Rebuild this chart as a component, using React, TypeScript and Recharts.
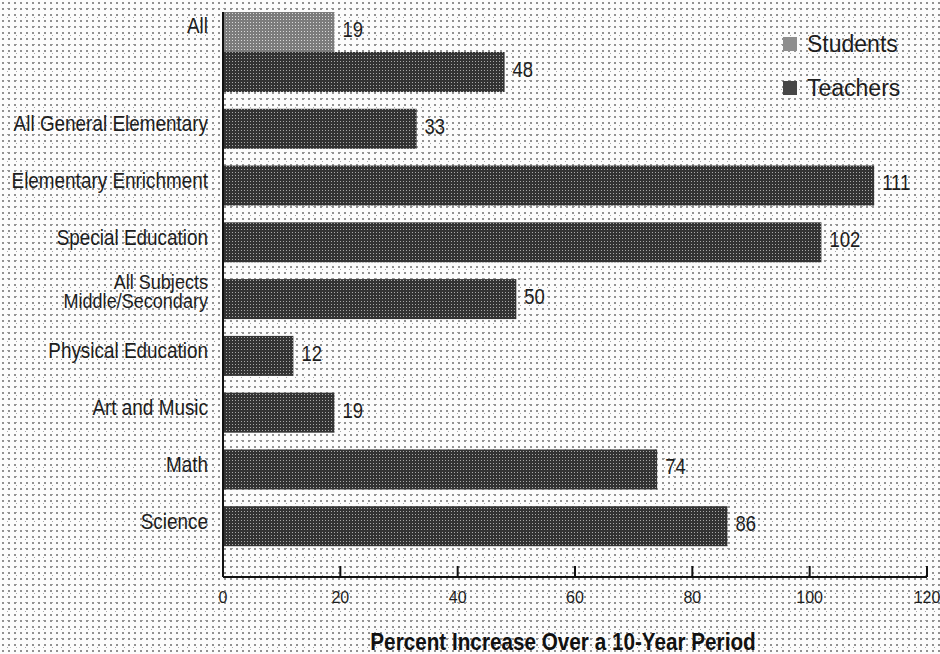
import React from "react";
import { BarChart, Bar, XAxis, YAxis, LabelList, Legend, Label } from "recharts";

const categories = [
  "All",
  "All General Elementary",
  "Elementary Enrichment",
  "Special Education",
  "All Subjects\nMiddle/Secondary",
  "Physical Education",
  "Art and Music",
  "Math",
  "Science",
];
const teacherIncrease = [48, 33, 111, 102, 50, 12, 19, 74, 86];
const studentIncrease: (number | null)[] = [19, null, null, null, null, null, null, null, null];
const xTicks = [0, 20, 40, 60, 80, 100, 120];
const seriesNames = ["Students", "Teachers"];
const axisTitle = "Percent Increase Over a 10-Year Period";

const data = categories.map((name, i) => ({
  name,
  teachers: teacherIncrease[i],
  students: studentIncrease[i],
}));

const PLAIN = "'Liberation Sans', Arial, sans-serif";
const INK = "#1d1d1d";
const TEACH_SOLID = "#464646";
const STU_SOLID = "#8e8e8e";

// condensed-looking text: a regular sans squeezed horizontally around its anchor
const Cond = (p: any) => {
  const { x, y, anchor = "start", size = 22, sx = 0.86, weight = "normal", fill = INK, children } = p;
  return (
    <text
      transform={`translate(${x},${y}) scale(${sx},1)`}
      x={0}
      y={0}
      textAnchor={anchor}
      fontFamily={PLAIN}
      fontSize={size}
      fontWeight={weight}
      fill={fill}
    >
      {children}
    </text>
  );
};

const YTick = (props: any) => {
  const { x, y, payload } = props;
  const label = String(payload.value);
  const lines = label.split("\n");
  const multi = lines.length > 1;
  const lh = 19;
  const size = multi ? 21 : 22;
  const first = label === "All" ? y - 47 : multi ? y - 18 : y - 6;
  return (
    <Cond x={x - 15} y={first} anchor="end" size={size}>
      {lines.map((l, i) => (
        <tspan key={i} x={0} dy={i === 0 ? "0.36em" : lh}>
          {l}
        </tspan>
      ))}
    </Cond>
  );
};

const XTick = (props: any) => {
  const { x, y, payload } = props;
  return (
    <g>
      <line x1={x} y1={y} x2={x} y2={y - 11} stroke="#111" strokeWidth={2} />
      <text x={x} y={y + 26} textAnchor="middle" fill={INK} fontFamily={PLAIN} fontSize={16}>
        {payload.value}
      </text>
    </g>
  );
};

const makeValueLabel = (lift: number) => (props: any) => {
  const vb = props.viewBox || props;
  const { x, y, width, height } = vb;
  const value = props.value;
  if (value == null || !width) return null;
  return (
    <Cond x={x + width + 8} y={y + height / 2 - lift - 3} sx={0.84}>
      <tspan dy="0.36em">{value}</tspan>
    </Cond>
  );
};

const StudentShape = (props: any) => {
  const { x, y, width, height } = props;
  if (!width || width <= 0) return null;
  return <rect x={x} y={y - height} width={width} height={height} fill="url(#stuPat)" />;
};

const TeacherShape = (props: any) => {
  const { x, y, width, height } = props;
  if (!width || width <= 0) return null;
  return <rect x={x} y={y} width={width} height={height} fill="url(#teachPat)" />;
};

const TitleLabel = (props: any) => {
  const vb = props.viewBox;
  return (
    <Cond
      x={vb.x + vb.width / 2 - 12}
      y={vb.y + vb.height - 4}
      anchor="middle"
      size={23}
      sx={0.9}
      weight="bold"
      fill="#111"
    >
      {axisTitle}
    </Cond>
  );
};

const LegendBox = () => {
  const colors = [STU_SOLID, TEACH_SOLID];
  return (
    <div style={{ fontFamily: PLAIN, fontSize: 23, color: INK }}>
      {seriesNames.map((n, i) => (
        <div key={n} style={{ display: "flex", alignItems: "center", height: 44 }}>
          <span
            style={{
              display: "inline-block",
              width: 14,
              height: 14,
              background: colors[i],
              marginRight: 10,
            }}
          />
          <span style={{ lineHeight: "23px" }}>{n}</span>
        </div>
      ))}
    </div>
  );
};

export default function App() {
  return (
    <div
      style={{
        position: "absolute",
        left: 0,
        top: 0,
        width: 940,
        height: 654,
        backgroundColor: "#fcfcfc",
        backgroundImage:
          "radial-gradient(circle, #8f8f8f 0.7px, transparent 1.1px), radial-gradient(circle, #a8a8a8 0.6px, transparent 1px)",
        backgroundSize: "6px 6px, 9px 9px",
        backgroundPosition: "0 0, 3px 4px",
      }}
    >
      <BarChart
        width={940}
        height={654}
        data={data}
        layout="vertical"
        barSize={40}
        margin={{ top: 12, right: 13, bottom: 0, left: 0 }}
      >
        <defs>
          <pattern id="teachPat" width="3" height="3" patternUnits="userSpaceOnUse">
            <rect width="3" height="3" fill="#333333" />
            <rect x="1" y="1" width="1" height="1" fill="#a8a8a8" />
          </pattern>
          <pattern id="stuPat" width="3" height="3" patternUnits="userSpaceOnUse">
            <rect width="3" height="3" fill="#7c7c7c" />
            <rect x="1" y="1" width="1" height="1" fill="#d8d8d8" />
          </pattern>
        </defs>
        <XAxis
          type="number"
          domain={[0, 120]}
          ticks={xTicks}
          height={77}
          tickSize={0}
          tickMargin={0}
          tickLine={false}
          axisLine={{ stroke: "#111", strokeWidth: 2 }}
          tick={<XTick />}
          interval={0}
        >
          <Label content={<TitleLabel />} />
        </XAxis>
        <YAxis
          yAxisId="t"
          type="category"
          dataKey="name"
          width={223}
          padding={{ top: 32, bottom: 22 }}
          tickSize={0}
          tickMargin={0}
          tickLine={false}
          axisLine={{ stroke: "#111", strokeWidth: 2 }}
          tick={<YTick />}
          interval={0}
        />
        <YAxis
          yAxisId="s"
          type="category"
          dataKey="name"
          hide
          width={0}
          padding={{ top: 32, bottom: 22 }}
        />
        <Legend
          layout="vertical"
          align="center"
          verticalAlign="middle"
          content={<LegendBox />}
          wrapperStyle={{ top: 22, left: 783, right: "auto", bottom: "auto", width: "auto" }}
        />
        <Bar
          dataKey="teachers"
          name="Teachers"
          yAxisId="t"
          fill={TEACH_SOLID}
          shape={<TeacherShape />}
          isAnimationActive={false}
        >
          <LabelList dataKey="teachers" content={makeValueLabel(0)} />
        </Bar>
        <Bar
          dataKey="students"
          name="Students"
          yAxisId="s"
          fill={STU_SOLID}
          shape={<StudentShape />}
          isAnimationActive={false}
        >
          <LabelList dataKey="students" content={makeValueLabel(40)} />
        </Bar>
      </BarChart>
    </div>
  );
}
